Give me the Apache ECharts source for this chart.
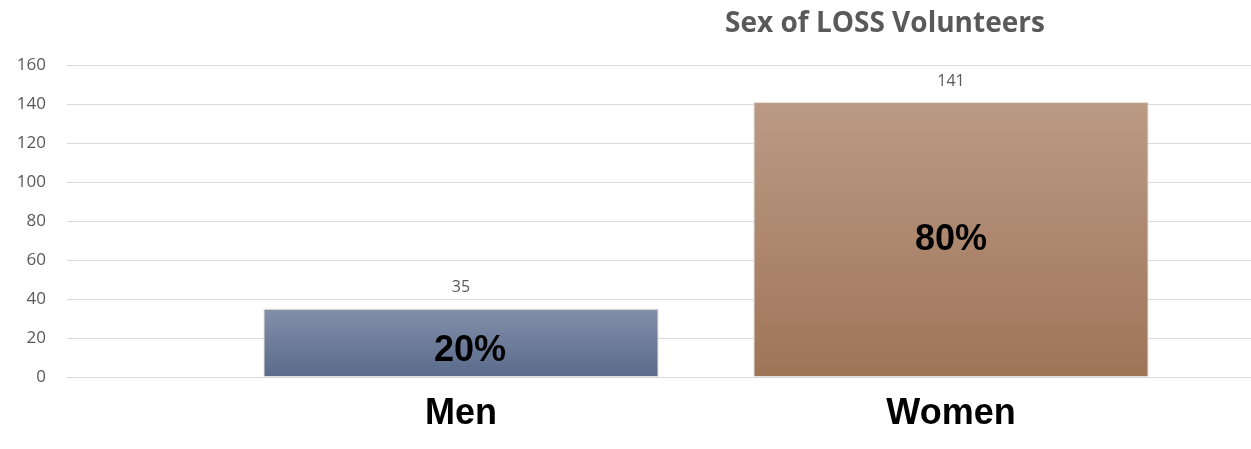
<!DOCTYPE html>
<html>
<head>
<meta charset="utf-8">
<script src="https://cdn.jsdelivr.net/npm/echarts@6/dist/echarts.min.js"></script>
<style>
  html, body { margin: 0; padding: 0; background: #ffffff; }
  #chart { width: 1251px; height: 449px; }
</style>
</head>
<body>
<div id="chart"></div>
<script>
// Volunteer counts by sex
const categories = ['Men', 'Women'];
const counts = [35, 141];
const yTicks = [0, 20, 40, 60, 80, 100, 120, 140, 160];

const total = counts.reduce((a, b) => a + b, 0);
const shares = counts.map(v => Math.round(v / total * 100) + '%');

const fills = [
  ['#8390aa', '#5a6a8b'],
  ['#bb9a85', '#9f7558']
];
// nudges for the share labels inside each bar
const shareOffsets = [[9, 8], [0, 1]];

const chart = echarts.init(document.getElementById('chart'));

const yMin = yTicks[0];
const yMax = yTicks[yTicks.length - 1];
const yStep = yTicks[1] - yTicks[0];

chart.setOption({
  animation: false,
  title: {
    text: 'Sex of LOSS Volunteers',
    left: 720,
    top: 5,
    textStyle: {
      fontFamily: 'Open Sans',
      fontWeight: 'bold',
      fontSize: 28,
      color: '#595959'
    }
  },
  grid: [
    { left: 67, right: 0, top: 65, bottom: 72 },
    { left: 216, right: 55, top: 65, bottom: 72 }
  ],
  xAxis: [
    { gridIndex: 0, type: 'value', show: false, min: 0, max: 1 },
    {
      gridIndex: 1,
      type: 'category',
      data: categories,
      axisLine: { show: false },
      axisTick: { show: false },
      axisLabel: {
        margin: 19,
        fontFamily: 'Liberation Sans',
        fontWeight: 'bold',
        fontSize: 36,
        color: '#000000'
      }
    }
  ],
  yAxis: [
    {
      gridIndex: 0,
      type: 'value',
      min: yMin,
      max: yMax,
      interval: yStep,
      axisLine: { show: false },
      axisTick: { show: false },
      axisLabel: {
        margin: 21,
        fontFamily: 'Open Sans',
        fontSize: 17,
        color: '#595959'
      },
      splitLine: { lineStyle: { color: '#d9d9d9', width: 1 } }
    },
    {
      gridIndex: 1,
      type: 'value',
      min: yMin,
      max: yMax,
      interval: yStep,
      show: false
    }
  ],
  series: [
    {
      type: 'bar',
      xAxisIndex: 1,
      yAxisIndex: 1,
      barWidth: 395,
      data: counts.map((v, i) => ({
        value: v,
        itemStyle: {
          color: new echarts.graphic.LinearGradient(0, 0, 0, 1, [
            { offset: 0, color: fills[i][0] },
            { offset: 1, color: fills[i][1] }
          ]),
          borderColor: '#e6e0dc',
          borderWidth: 1
        }
      })),
      label: {
        show: true,
        position: 'top',
        distance: 13,
        fontFamily: 'Open Sans',
        fontSize: 16,
        color: '#595959'
      }
    },
    {
      type: 'bar',
      xAxisIndex: 1,
      yAxisIndex: 1,
      barWidth: 395,
      barGap: '-100%',
      silent: true,
      itemStyle: { color: 'rgba(0,0,0,0)' },
      data: counts.map((v, i) => ({
        value: v,
        label: { offset: shareOffsets[i] }
      })),
      label: {
        show: true,
        position: 'inside',
        formatter: p => shares[p.dataIndex],
        fontFamily: 'Liberation Sans',
        fontWeight: 'bold',
        fontSize: 36,
        color: '#000000'
      }
    }
  ]
});
</script>
</body>
</html>
